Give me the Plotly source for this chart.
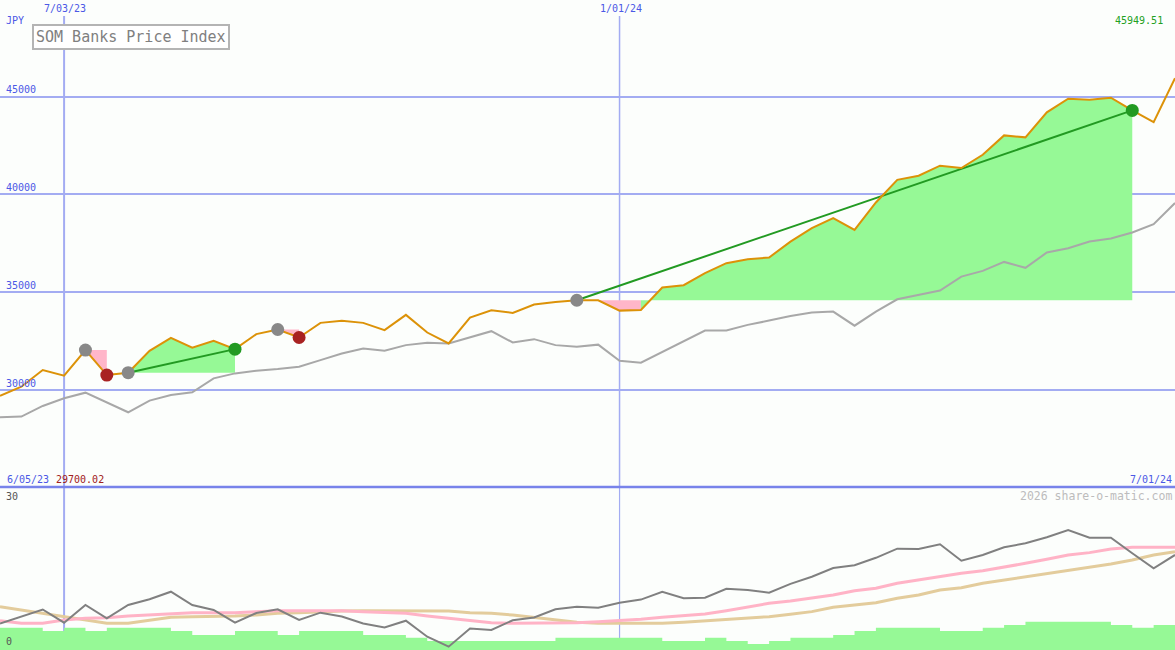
import plotly.graph_objects as go
import pandas as pd

W, H = 1175, 650

# ---------------- data ----------------
dates = pd.date_range("2023-06-12", periods=56, freq="7D")

price = [29700.02, 30170, 31020, 30730, 32040, 30765, 30885, 32000, 32670, 32160,
         32516, 32090, 32860, 33094, 32686, 33434, 33536, 33434, 33060, 33842,
         32940, 32380, 33706, 34080, 33944, 34369, 34505, 34590, 34590, 34060,
         34096, 35240, 35360, 35975, 36487, 36690, 36775, 37590, 38280, 38790,
         38190, 39590, 40750, 40956, 41470, 41350, 42030, 43020, 42920, 44200,
         44900, 44850, 44950, 44300, 43700, 45949.51]

moving_avg = [28606, 28640, 29184, 29575, 29864, 29354, 28861, 29456, 29745, 29881,
              30595, 30850, 30986, 31071, 31190, 31530, 31870, 32125, 32006, 32295,
              32414, 32380, 32686, 33009, 32431, 32601, 32295, 32210, 32320, 31500,
              31400, 31945, 32490, 33040, 33040, 33330, 33550, 33790, 33960, 34010,
              33290, 34010, 34640, 34860, 35085, 35800, 36090, 36550, 36250, 37030,
              37250, 37590, 37750, 38055, 38480, 39560]

osc_main = [4.88, 6.10, 7.45, 5.02, 8.28, 5.83, 8.28, 9.33, 10.73, 8.28,
            7.36, 5.02, 6.81, 7.49, 5.52, 6.87, 6.17, 4.88, 4.14, 5.39,
            2.45, 0.61, 3.96, 3.68, 5.47, 5.98, 7.51, 7.97, 7.79, 8.71,
            9.28, 10.73, 9.52, 9.63, 11.28, 11.04, 10.55, 12.18, 13.49, 15.09,
            15.59, 16.97, 18.65, 18.59, 19.46, 16.44, 17.49, 18.90, 19.64, 20.74,
            22.09, 20.67, 20.67, 17.80, 15.04, 17.49]

osc_fast = [5.40, 4.91, 4.91, 5.52, 5.83, 5.95, 6.26, 6.44, 6.63, 6.87,
            6.87, 6.87, 7.06, 7.24, 7.24, 7.24, 7.24, 7.06, 6.87, 6.75,
            6.26, 5.83, 5.52, 5.03, 4.91, 4.91, 5.03, 5.03, 5.21, 5.40,
            5.64, 6.01, 6.26, 6.63, 7.24, 7.85, 8.59, 9.02, 9.51, 10.12,
            10.92, 11.35, 12.27, 12.88, 13.62, 14.11, 14.60, 15.21, 15.95, 16.69,
            17.49, 17.92, 18.59, 18.90, 18.90, 18.90]

osc_slow = [7.97, 7.36, 6.75, 6.14, 5.40, 4.91, 4.91, 5.52, 6.01, 6.14,
            6.14, 6.26, 6.44, 6.75, 6.87, 7.06, 7.18, 7.24, 7.24, 7.24,
            7.24, 7.18, 6.87, 6.75, 6.44, 5.95, 5.52, 5.09, 4.91, 4.91,
            4.91, 4.91, 5.09, 5.34, 5.52, 5.83, 6.14, 6.57, 7.06, 7.85,
            8.28, 8.71, 9.51, 10.12, 11.04, 11.47, 12.27, 12.88, 13.49, 14.11,
            14.72, 15.21, 15.83, 16.57, 17.49, 18.10]

volume_bars = [4.10, 4.10, 3.50, 4.10, 3.50, 4.10, 4.10, 4.10, 3.50, 2.76,
               2.76, 3.50, 3.50, 2.76, 3.50, 3.50, 3.50, 2.76, 2.76, 2.26,
               1.66, 1.66, 1.66, 1.66, 1.66, 1.66, 2.26, 2.26, 2.26, 2.26,
               2.26, 1.66, 1.66, 2.26, 1.66, 1.10, 1.66, 2.26, 2.26, 2.76,
               3.50, 4.10, 4.10, 4.10, 3.50, 3.50, 4.10, 4.60, 5.21, 5.21,
               5.21, 5.21, 4.60, 4.10, 4.60, 4.60]

entry_idx = [4, 6, 13, 27]
exit_idx = [5, 11, 14, 53]

grid_levels = [30000, 35000, 40000, 45000]
grid_labels = ["30000", "35000", "40000", "45000"]
vline_dates = ["2023-07-03", "2024-01-01"]
vline_labels = ["7/03/23", "1/01/24"]

# ---------------- styles ----------------
BG = "#fcfefc"
GRID = "#a3acf2"
SEP = "#7883ea"
BLUE_TXT = "#4b58e6"
ORANGE = "#dc9208"
MA_GRAY = "#a8a8a8"
PINK_FILL = "#ffb6c9"
GREEN_FILL = "#96f996"
TRADE_GREEN = "#229a22"
ENTRY_GRAY = "#888888"
LOSS_RED = "#a82222"
MONO = "DejaVu Sans Mono"

SPLIT = 163 / H  # bottom panel height fraction

fig = go.Figure()

# ---------------- trade fills ----------------
for en, ex in zip(entry_idx, exit_idx):
    level = price[en]
    groups = []
    for i in range(en, ex):
        col = GREEN_FILL if price[i + 1] >= level else PINK_FILL
        if groups and groups[-1][0] == col:
            groups[-1][2] = i + 1
        else:
            groups.append([col, i, i + 1])
    for col, a, b in groups:
        xs = list(dates[a:b + 1]) + list(dates[a:b + 1])[::-1]
        ys = price[a:b + 1] + [level] * (b - a + 1)
        fig.add_trace(go.Scatter(x=xs, y=ys, fill="toself", fillcolor=col,
                                 line=dict(width=0), mode="lines",
                                 hoverinfo="skip", showlegend=False,
                                 xaxis="x", yaxis="y"))

# moving average
fig.add_trace(go.Scatter(x=dates, y=moving_avg, mode="lines",
                         line=dict(color=MA_GRAY, width=2),
                         showlegend=False, xaxis="x", yaxis="y"))

# winning-trade connector lines
for en, ex in zip(entry_idx, exit_idx):
    if price[ex] > price[en]:
        fig.add_trace(go.Scatter(x=[dates[en], dates[ex]], y=[price[en], price[ex]],
                                 mode="lines", line=dict(color=TRADE_GREEN, width=2),
                                 showlegend=False, xaxis="x", yaxis="y"))

# price line
fig.add_trace(go.Scatter(x=dates, y=price, mode="lines",
                         line=dict(color=ORANGE, width=2),
                         showlegend=False, xaxis="x", yaxis="y"))

# markers
fig.add_trace(go.Scatter(x=[dates[i] for i in entry_idx], y=[price[i] for i in entry_idx],
                         mode="markers", marker=dict(color=ENTRY_GRAY, size=13),
                         showlegend=False, xaxis="x", yaxis="y"))
ex_cols = [TRADE_GREEN if price[ex] > price[en] else LOSS_RED
           for en, ex in zip(entry_idx, exit_idx)]
fig.add_trace(go.Scatter(x=[dates[i] for i in exit_idx], y=[price[i] for i in exit_idx],
                         mode="markers", marker=dict(color=ex_cols, size=13),
                         showlegend=False, xaxis="x", yaxis="y"))

# ---------------- bottom panel ----------------
fig.add_trace(go.Scatter(x=dates, y=volume_bars, mode="lines", line_shape="hv",
                         fill="tozeroy", fillcolor=GREEN_FILL, line=dict(width=0, color=GREEN_FILL),
                         showlegend=False, xaxis="x2", yaxis="y2"))
fig.add_trace(go.Scatter(x=dates, y=osc_slow, mode="lines",
                         line=dict(color="#e3cc9c", width=3),
                         showlegend=False, xaxis="x2", yaxis="y2"))
fig.add_trace(go.Scatter(x=dates, y=osc_fast, mode="lines",
                         line=dict(color="#ffb3c6", width=3),
                         showlegend=False, xaxis="x2", yaxis="y2"))
fig.add_trace(go.Scatter(x=dates, y=osc_main, mode="lines",
                         line=dict(color="#808080", width=2),
                         showlegend=False, xaxis="x2", yaxis="y2"))

# ---------------- shapes ----------------
shapes = []
for i, d in enumerate(vline_dates):
    shapes.append(dict(type="line", xref="x", yref="paper", x0=d, x1=d,
                       y0=SPLIT, y1=1 - 16 / H, line=dict(color=GRID, width=2 if i == 0 else 1.5),
                       layer="below"))
    shapes.append(dict(type="line", xref="x2", yref="paper", x0=d, x1=d,
                       y0=0, y1=SPLIT, line=dict(color=GRID, width=2 if i == 0 else 1.2),
                       layer="below"))
shapes.append(dict(type="line", xref="paper", yref="paper", x0=0, x1=1,
                   y0=SPLIT, y1=SPLIT, line=dict(color=SEP, width=2.5), layer="above"))

# ---------------- annotations ----------------
def px(x):
    return x / W


def py(y):
    return 1 - y / H


ann = []
for lv, lb in zip(grid_levels, grid_labels):
    ann.append(dict(text=lb, xref="paper", yref="y", x=px(4), y=lv, yshift=7,
                    xanchor="left", yanchor="middle", showarrow=False,
                    font=dict(family=MONO, size=10, color=BLUE_TXT)))
for d, lb in zip(vline_dates, vline_labels):
    ann.append(dict(text=lb, xref="x", yref="paper", x=d, y=py(9), xshift=1,
                    xanchor="center", yanchor="middle", showarrow=False,
                    font=dict(family=MONO, size=10, color=BLUE_TXT)))
ann.append(dict(text="JPY", xref="paper", yref="paper", x=px(4), y=py(21),
                xanchor="left", yanchor="middle", showarrow=False,
                font=dict(family=MONO, size=10, color=BLUE_TXT)))
ann.append(dict(text=f"{price[-1]:.2f}", xref="paper", yref="paper", x=px(1165), y=py(21),
                xanchor="right", yanchor="middle", showarrow=False,
                font=dict(family=MONO, size=10, color="#22a022")))
ann.append(dict(text="SOM Banks Price Index", xref="paper", yref="paper",
                x=px(32), y=py(24), xanchor="left", yanchor="top", showarrow=False,
                bgcolor="#ffffff", bordercolor="#b4b4b4", borderwidth=2, borderpad=2,
                font=dict(family=MONO, size=15, color="#808080")))
ann.append(dict(text="6/05/23", xref="paper", yref="paper", x=px(5), y=py(479),
                xanchor="left", yanchor="middle", showarrow=False,
                font=dict(family=MONO, size=10, color=BLUE_TXT)))
ann.append(dict(text=f"{min(price):.2f}", xref="paper", yref="paper", x=px(54), y=py(479),
                xanchor="left", yanchor="middle", showarrow=False,
                font=dict(family=MONO, size=10, color="#a02020")))
ann.append(dict(text="7/01/24", xref="paper", yref="paper", x=px(1174), y=py(479),
                xanchor="right", yanchor="middle", showarrow=False,
                font=dict(family=MONO, size=10, color=BLUE_TXT)))
ann.append(dict(text="2026 share-o-matic.com", xref="paper", yref="paper", x=px(1174), y=py(496),
                xanchor="right", yanchor="middle", showarrow=False,
                font=dict(family=MONO, size=11.5, color="#bcbcbc")))
ann.append(dict(text="30", xref="paper", yref="paper", x=px(4), y=py(496),
                xanchor="left", yanchor="middle", showarrow=False,
                font=dict(family=MONO, size=10, color="#555555")))
ann.append(dict(text="0", xref="paper", yref="paper", x=px(4), y=py(641),
                xanchor="left", yanchor="middle", showarrow=False,
                font=dict(family=MONO, size=10, color="#555555")))

xrange = [dates[0], dates[-1]]
fig.update_layout(
    width=W, height=H, margin=dict(l=0, r=0, t=0, b=0),
    paper_bgcolor=BG, plot_bgcolor=BG, showlegend=False,
    xaxis=dict(domain=[0, 1], anchor="y", type="date", range=xrange,
               showgrid=False, zeroline=False, showticklabels=False, ticks="", showline=False, fixedrange=True),
    yaxis=dict(domain=[SPLIT, 1], anchor="x", range=[25040, 49945],
               tickvals=grid_levels, showgrid=True, gridcolor=GRID, gridwidth=2,
               zeroline=False, showticklabels=False, ticks="", showline=False, fixedrange=True),
    xaxis2=dict(domain=[0, 1], anchor="y2", type="date", range=xrange,
                showgrid=False, zeroline=False, showticklabels=False, ticks="", showline=False, fixedrange=True),
    yaxis2=dict(domain=[0, SPLIT], anchor="x2", range=[0, 30],
                showgrid=False, zeroline=False, showticklabels=False, ticks="", showline=False, fixedrange=True),
    shapes=shapes, annotations=ann,
    font=dict(family=MONO),
)

fig.write_html("out.html", config={"displayModeBar": False},
               post_script="document.body.style.margin='0px';document.body.style.padding='0px';document.body.style.overflow='hidden';document.body.style.background='" + BG + "';")
